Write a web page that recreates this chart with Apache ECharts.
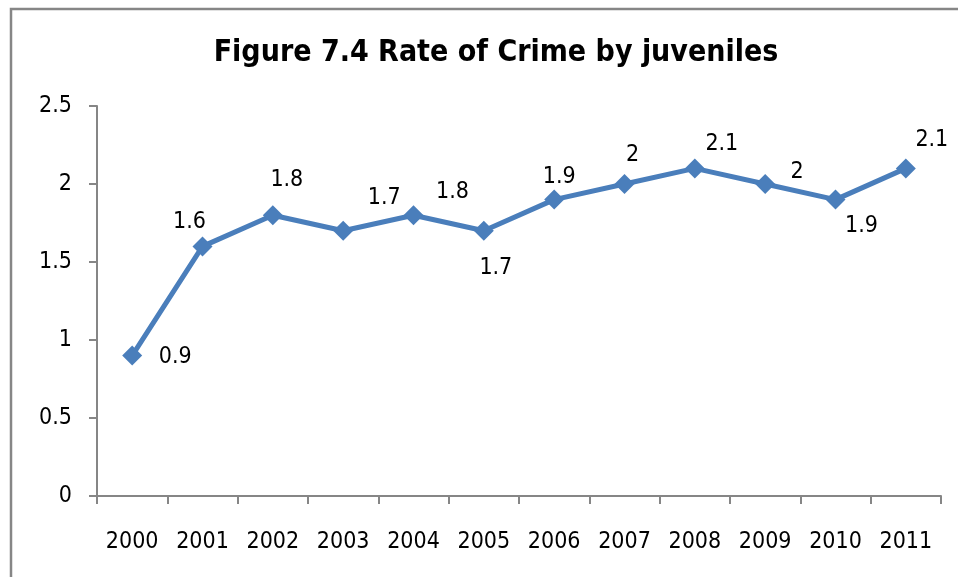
<!DOCTYPE html>
<html>
<head>
<meta charset="utf-8">
<script src="https://cdn.jsdelivr.net/npm/echarts@6/dist/echarts.min.js"></script>
<style>
html, body { margin: 0; padding: 0; background: #fff; }
#chart { width: 958px; height: 577px; }
</style>
</head>
<body>
<div id="chart"></div>
<script>
// data
var years = ['2000', '2001', '2002', '2003', '2004', '2005', '2006', '2007', '2008', '2009', '2010', '2011'];
var rates = [0.9, 1.6, 1.8, 1.7, 1.8, 1.7, 1.9, 2, 2.1, 2, 1.9, 2.1];
// where each value label sits relative to its point
var labelOffsets = [[43, 1], [-13, -24], [14, -35], [41, -33], [39, -23], [12, 37],
	[5, -23], [8, -29], [27, -24], [32, -12], [26, 26], [26, -28]];

var labelFont = 'DejaVu Sans Condensed, sans-serif';

var myChart = echarts.init(document.getElementById('chart'));

var points = rates.map(function(v, i) {
	return {
		value: v,
		label: {
			show: true,
			position: 'inside',
			offset: labelOffsets[i]
		}
	};
});

var option = {
	animation: false,
	backgroundColor: '#fff',
	title: {
		text: 'Figure 7.4 Rate of Crime by juveniles',
		left: 491,
		textAlign: 'center',
		top: 33,
		textStyle: {
			color: '#000',
			fontSize: 30,
			fontWeight: 'bold',
			fontFamily: labelFont
		}
	},
	graphic: [{
		type: 'rect',
		shape: { x: 11, y: 9, width: 1100, height: 1100 },
		style: { fill: 'none', stroke: '#868686', lineWidth: 2.5 },
		silent: true
	}],
	grid: {
		left: 97,
		right: 17,
		top: 106,
		bottom: 81
	},
	xAxis: {
		type: 'category',
		data: years,
		boundaryGap: true,
		axisLine: { lineStyle: { color: '#868686', width: 2 } },
		axisTick: { show: true, interval: 0, length: 8, lineStyle: { color: '#868686', width: 2 } },
		axisLabel: {
			interval: 0,
			color: '#000',
			fontSize: 23,
			fontFamily: labelFont,
			margin: 35
		}
	},
	yAxis: {
		type: 'value',
		min: 0,
		max: 2.5,
		interval: 0.5,
		splitLine: { show: false },
		axisLine: { show: true, lineStyle: { color: '#868686', width: 2 } },
		axisTick: { show: true, length: 8, lineStyle: { color: '#868686', width: 2 } },
		axisLabel: {
			color: '#000',
			fontSize: 23,
			fontFamily: labelFont,
			margin: 25
		}
	},
	series: [{
		type: 'line',
		data: points,
		symbol: 'diamond',
		symbolSize: 20,
		lineStyle: { color: '#4a7ebb', width: 5 },
		itemStyle: { color: '#4a7ebb' },
		label: {
			color: '#000',
			fontSize: 23,
			fontFamily: labelFont
		}
	}]
};
myChart.setOption(option);
</script>
</body>
</html>
